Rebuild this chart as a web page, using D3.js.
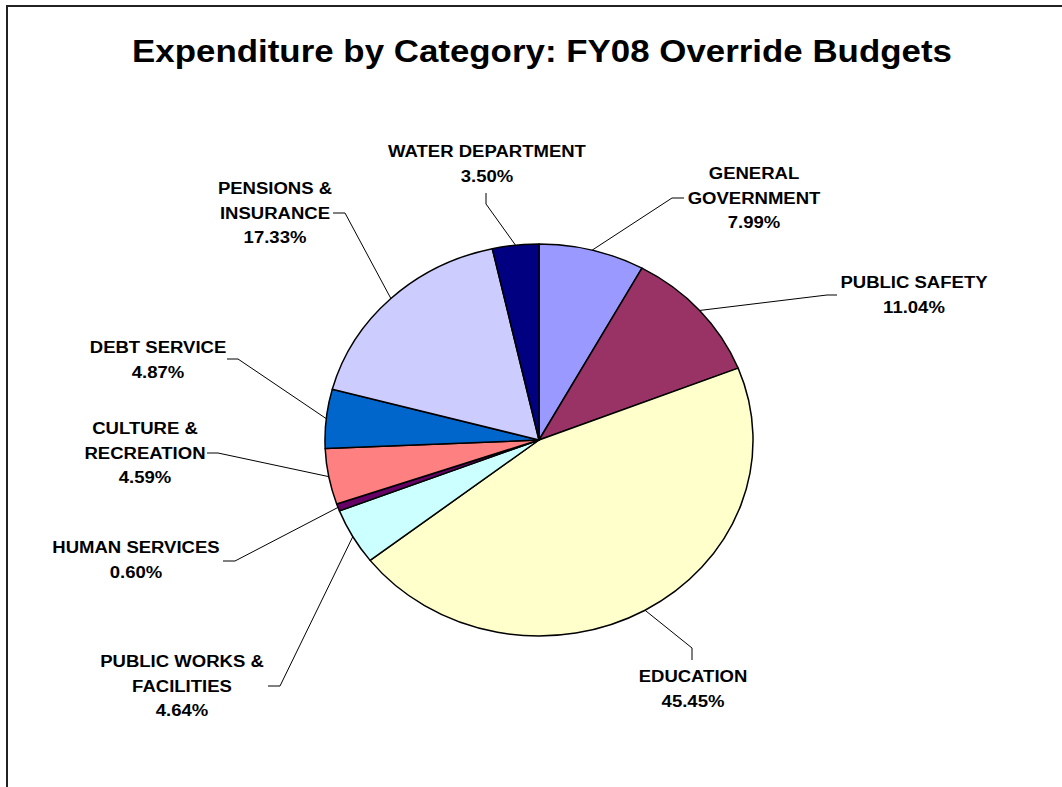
<!DOCTYPE html>
<html>
<head>
<meta charset="utf-8">
<script src="https://cdn.jsdelivr.net/npm/d3@7"></script>
<style>
  html, body { margin: 0; padding: 0; background: #fff; }
  svg { display: block; }
  text { font-family: "Liberation Sans", Arial, sans-serif; font-weight: bold; fill: #000; }
</style>
</head>
<body>
<svg id="chart" width="1062" height="787"></svg>
<script>
// FY08 override budget, share of expenditure by category (percent), clockwise from 12 o'clock
const categories = [
  "GENERAL GOVERNMENT", "PUBLIC SAFETY", "EDUCATION", "PUBLIC WORKS & FACILITIES",
  "HUMAN SERVICES", "CULTURE & RECREATION", "DEBT SERVICE", "PENSIONS & INSURANCE",
  "WATER DEPARTMENT"
];
const shares = [7.99, 11.04, 45.45, 4.64, 0.60, 4.59, 4.87, 17.33, 3.50];
// how each category name wraps in its label
const labelLines = [
  ["GENERAL", "GOVERNMENT"], ["PUBLIC SAFETY"], ["EDUCATION"], ["PUBLIC WORKS &", "FACILITIES"],
  ["HUMAN SERVICES"], ["CULTURE &", "RECREATION"], ["DEBT SERVICE"], ["PENSIONS &", "INSURANCE"],
  ["WATER DEPARTMENT"]
];
const chartTitle = "Expenditure by Category: FY08 Override Budgets";

// slice fills
const palette = ["#9999FF", "#993366", "#FFFFCC", "#CCFFFF", "#660066", "#FF8080", "#0066CC", "#CCCCFF", "#000080"];

// label layout: text centre x, first baseline y, and the leader's bend/end points
const labelLayout = [
  { x: 754, y: 179, leader: [[672, 198], [684, 198]] },
  { x: 914, y: 288, leader: [[827, 295], [837, 295]] },
  { x: 693, y: 682, leader: [[692, 648], [692, 660]] },
  { x: 182, y: 667, leader: [[280, 686], [268, 686]] },
  { x: 136, y: 553, leader: [[235, 561], [223, 561]] },
  { x: 145, y: 434, leader: [[218, 453], [207, 453]] },
  { x: 158, y: 353, leader: [[238, 359], [227, 359]] },
  { x: 275, y: 194, leader: [[345, 213], [333, 213]] },
  { x: 487, y: 157, leader: [[486, 204], [486, 193]] }
];

const W = 1062, H = 787;
const cx = 539, cy = 440, R = 196, sx = 1.092;   // pie is drawn slightly wider than tall
const textStretch = 1.09, lineGap = 24.5;

const svg = d3.select("#chart");

// frame
svg.append("rect")
  .attr("x", 7).attr("y", 6).attr("width", W + 20).attr("height", H + 20)
  .attr("fill", "none").attr("stroke", "#222").attr("stroke-width", 2);

function stretchedText(x, y, str, size) {
  return svg.append("text")
    .attr("transform", `translate(${x},${y}) scale(${textStretch},1)`)
    .attr("text-anchor", "middle")
    .attr("font-size", size)
    .text(str);
}

// title
stretchedText(542, 62, chartTitle, 32);

// pie
const pie = d3.pie().sort(null).value(d => d).startAngle(0).endAngle(2 * Math.PI);
const arcs = pie(shares);
const arc = d3.arc().innerRadius(0).outerRadius(R);

const pieG = svg.append("g").attr("transform", `translate(${cx},${cy}) scale(${sx},1)`);
pieG.selectAll("path")
  .data(arcs)
  .join("path")
  .attr("d", arc)
  .attr("fill", (d, i) => palette[i])
  .attr("stroke", "#000")
  .attr("stroke-width", 1.5)
  .attr("stroke-linejoin", "round")
  .attr("vector-effect", "non-scaling-stroke");

// leader lines from the slice edge at its mid angle
const line = d3.line();
arcs.forEach((d, i) => {
  const a = (d.startAngle + d.endAngle) / 2;
  const edge = [cx + sx * R * Math.sin(a), cy - R * Math.cos(a)];
  svg.append("path")
    .attr("d", line([edge, ...labelLayout[i].leader]))
    .attr("fill", "none")
    .attr("stroke", "#000")
    .attr("stroke-width", 1);
});

// category labels with percentages
const fmt = d3.format(".2f");
arcs.forEach((d, i) => {
  const L = labelLayout[i];
  const rows = [...labelLines[i], fmt(shares[i]) + "%"];
  rows.forEach((r, k) => stretchedText(L.x, L.y + k * lineGap, r, 17));
});
</script>
</body>
</html>
